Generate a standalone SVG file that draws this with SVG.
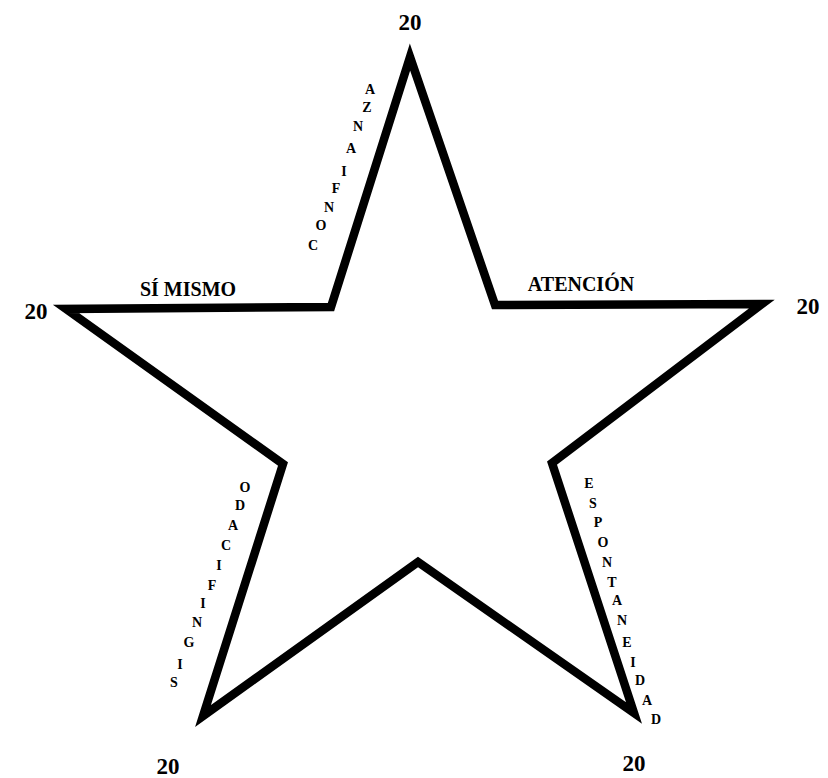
<svg xmlns="http://www.w3.org/2000/svg" width="828" height="778" viewBox="0 0 828 778">
<style>
.num{font-family:"Liberation Serif","Times New Roman",serif;font-weight:bold;font-size:23px;fill:#000;text-anchor:middle}
.lab{font-family:"Liberation Serif","Times New Roman",serif;font-weight:bold;font-size:20px;fill:#000;text-anchor:middle}
.let{font-family:"Liberation Serif","Times New Roman",serif;font-weight:bold;font-size:14px;fill:#000;text-anchor:middle}
</style>
<rect width="828" height="778" fill="#fff"/>
<g id="star">
<polygon points="410,57 495,305 762,304 552,463 634,713 418,562 203,716 283,464 66,309 331,307" fill="none" stroke="#000" stroke-width="8.5" stroke-linejoin="miter" stroke-miterlimit="10"/>
</g>
<g id="numbers">
<text class="num" x="410" y="30">20</text>
<text class="num" x="36" y="319">20</text>
<text class="num" x="808" y="314">20</text>
<text class="num" x="168" y="774">20</text>
<text class="num" x="634" y="771">20</text>
</g>
<g id="labels">
<text class="lab" x="188" y="296">SÍ MISMO</text>
<text class="lab" x="581" y="291">ATENCIÓN</text>
</g>
<g id="confianza">
<text class="let" x="370" y="94">A</text>
<text class="let" x="367" y="112">Z</text>
<text class="let" x="358" y="131">N</text>
<text class="let" x="351" y="153">A</text>
<text class="let" x="344" y="176">I</text>
<text class="let" x="336" y="193">F</text>
<text class="let" x="329" y="212">N</text>
<text class="let" x="321" y="230">O</text>
<text class="let" x="313" y="250">C</text>
</g>
<g id="significado">
<text class="let" x="245" y="492">O</text>
<text class="let" x="240" y="510">D</text>
<text class="let" x="233" y="530">A</text>
<text class="let" x="226" y="550">C</text>
<text class="let" x="219" y="570">I</text>
<text class="let" x="212" y="590">F</text>
<text class="let" x="203" y="608">I</text>
<text class="let" x="197" y="627">N</text>
<text class="let" x="189" y="647">G</text>
<text class="let" x="180" y="669">I</text>
<text class="let" x="174" y="687">S</text>
</g>
<g id="espontaneidad">
<text class="let" x="589" y="488">E</text>
<text class="let" x="593" y="508">S</text>
<text class="let" x="598" y="527">P</text>
<text class="let" x="603" y="547">O</text>
<text class="let" x="607" y="567">N</text>
<text class="let" x="612" y="587">T</text>
<text class="let" x="617" y="605">A</text>
<text class="let" x="622" y="625">N</text>
<text class="let" x="627" y="647">E</text>
<text class="let" x="633" y="667">I</text>
<text class="let" x="640" y="685">D</text>
<text class="let" x="647" y="705">A</text>
<text class="let" x="656" y="724">D</text>
</g>
</svg>
